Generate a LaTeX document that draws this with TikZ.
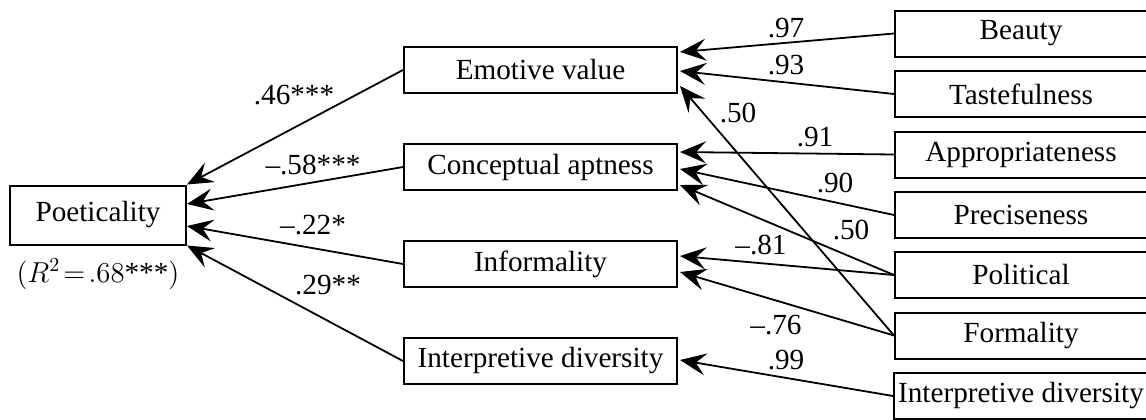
\documentclass[tikz,border=0pt]{standalone}
\usepackage{fontspec}
\setmainfont{Liberation Serif}
\usetikzlibrary{arrows.meta,calc}
\begin{document}
\begin{tikzpicture}[x=0.5pt,y=-0.5pt,
  font=\fontsize{14.6}{17}\selectfont,
  box/.style={draw,line width=1pt,inner sep=2pt,align=center},
  mid/.style={box,minimum width=136.5pt,minimum height=23pt},
  rbox/.style={box,minimum width=126pt,minimum height=23pt},
  arr/.style={line width=0.9pt,-{Stealth[length=13pt,width=11pt,inset=5pt]}},
  lab/.style={inner sep=0pt}]
\useasboundingbox (0,0) rectangle (1146,419);
\clip (0,0) rectangle (1146,419);
% nodes
\node[box,minimum width=88pt,minimum height=29.5pt] (poet) at (98,215) {Poeticality};
\node[lab] (r2) at (98,274) {$(R^2\!=\!.68$***$)$};
\node[mid] (emo) at (540.5,70) {Emotive value};
\node[mid] (con) at (540.5,167) {Conceptual aptness};
\node[mid] (inf) at (540.5,264) {Informality};
\node[mid] (div) at (540.5,361) {Interpretive diversity};
\node[rbox] (bea) at (1021,33.5) {Beauty};
\node[rbox] (tas) at (1021,94) {Tastefulness};
\node[rbox] (app) at (1021,154.5) {Appropriateness};
\node[rbox] (pre) at (1021,215) {Preciseness};
\node[rbox] (pol) at (1021,275) {Political};
\node[rbox] (for) at (1021,335.5) {Formality};
\node[rbox] (idv) at (1021,396) {Interpretive diversity};
% left connectors
\draw[arr] (emo.west) -- (poet.north east);
\draw[arr] (con.west) -- ($(poet.east)+(0,-11)$);
\draw[arr] (inf.west) -- ($(poet.east)+(0,11)$);
\draw[arr] (div.west) -- (poet.south east);
% right connectors
\draw[arr] (bea.west) -- ($(emo.east)+(2,-18)$);
\draw[arr] (tas.west) -- ($(emo.east)+(2,1)$);
\draw[arr] (for.west) -- ($(emo.east)+(2,16)$);
\draw[arr] (app.west) -- ($(con.east)+(2,-15)$);
\draw[arr] (pre.west) -- ($(con.east)+(2,2)$);
\draw[arr] (pol.west) -- ($(con.east)+(2,18)$);
\draw[arr] (pol.west) -- ($(inf.east)+(2,-8)$);
\draw[arr] (for.west) -- ($(inf.east)+(2,8)$);
\draw[arr] (idv.west) -- ($(div.east)+(2,-1)$);
% labels
\node[lab] (l1) at (294,95) {.46***};
\node[lab] (l2) at (313,165) {–.58***};
\node[lab] (l3) at (313,225) {–.22*};
\node[lab] (l4) at (328,285) {.29**};
\node[lab] (l5) at (786,28) {.97};
\node[lab] (l6) at (786,65) {.93};
\node[lab] (l7) at (738,113) {.50};
\node[lab] (l8) at (815,137) {.91};
\node[lab] (l9) at (835,183) {.90};
\node[lab] (l10) at (851,230) {.50};
\node[lab] (l11) at (761,245) {–.81};
\node[lab] (l12) at (776,325) {–.76};
\node[lab] (l13) at (786,360) {.99};
\end{tikzpicture}
\end{document}
